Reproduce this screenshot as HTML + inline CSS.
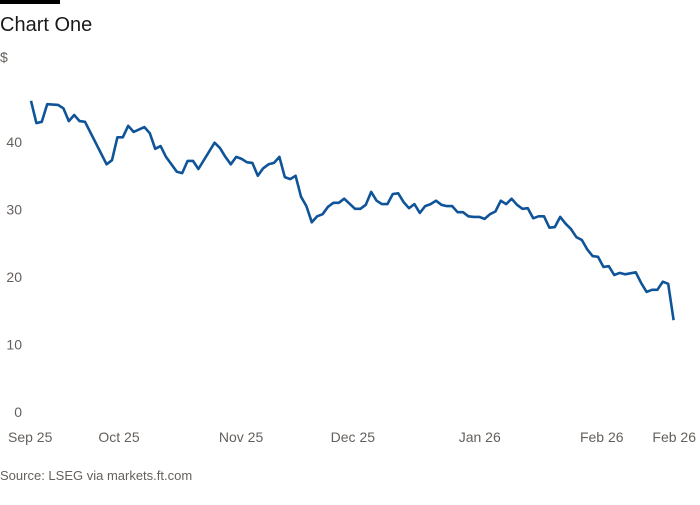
<!DOCTYPE html>
<html><head><meta charset="utf-8"><style>
html,body{margin:0;padding:0;background:#fff;}
body{width:700px;height:500px;overflow:hidden;font-family:"Liberation Sans",sans-serif;}
</style></head><body>
<svg id="chart" width="700" height="500" viewBox="0 0 700 500">
<rect x="0" y="0" width="60" height="4" fill="#000"/>
<text x="0" y="31" font-size="20" fill="#1a1a1a">Chart One</text>
<text x="0" y="62" font-size="14" fill="#66605c">$</text>
<text x="0" y="480" font-size="13" fill="#66605c">Source: LSEG via markets.ft.com</text>
<g id="yaxis"></g><g id="xaxis"></g><g id="series"></g>
</svg>
<script>
const dayIndex=[0,1,2,3,5,6,7,8,9,10,14,15,16,17,18,19,21,22,23,24,25,27,28,29,30,31,34,35,36,37,38,39,40,41,42,43,44,45,46,47,48,49,50,51,52,53,54,55,56,57,58,60,61,62,63,64,65,66,67,68,69,70,71,72,73,74,75,76,77,78,79,80,81,82,83,84,85,86,87,88,89,90,91,92,93,94,95,96,97,98,99,100,101,102,103,104,105,106,107,108,109,110,112,113,114,115,116,117,118,119];
const prices=[46.1,42.8,43.0,45.6,45.5,45.0,43.1,44.0,43.1,43.0,36.7,37.3,40.7,40.7,42.4,41.5,42.2,41.3,39.0,39.4,37.8,35.6,35.4,37.2,37.2,36.0,39.9,39.1,37.8,36.7,37.8,37.5,37.0,36.9,35.0,36.1,36.7,36.9,37.8,34.8,34.5,35.0,31.9,30.5,28.1,29.0,29.3,30.4,31.0,31.0,31.6,30.1,30.1,30.7,32.6,31.3,30.8,30.8,32.3,32.4,31.1,30.2,30.8,29.5,30.5,30.8,31.3,30.7,30.5,30.5,29.6,29.6,29.0,28.9,28.9,28.6,29.3,29.7,31.3,30.8,31.6,30.7,30.1,30.2,28.7,29.0,29.0,27.3,27.4,28.9,27.9,27.1,25.9,25.5,24.1,23.1,23.0,21.5,21.6,20.3,20.6,20.4,20.7,19.1,17.8,18.1,18.1,19.3,19.0,13.6];
const yTicks=[0,10,20,30,40];
const xTickLabels=["Sep 25","Oct 25","Nov 25","Dec 25","Jan 26","Feb 26","Feb 26"];
const xTickDays=[0,16.3,38.9,59.6,83.1,105.7,119];
const NS="http://www.w3.org/2000/svg";
const xs=d=>31+d*5.4;
const ys=v=>412-6.75*v;
const ya=document.getElementById('yaxis');
yTicks.forEach(t=>{const e=document.createElementNS(NS,'text');
e.setAttribute('x',22);e.setAttribute('y',ys(t)+5);e.setAttribute('text-anchor','end');
e.setAttribute('font-size','14');e.setAttribute('fill','#66605c');e.textContent=t;


ya.appendChild(e);});
const xa=document.getElementById('xaxis');
xTickLabels.forEach((l,i)=>{const e=document.createElementNS(NS,'text');
let x=xs(xTickDays[i]);let anchor='middle';
if(i===0){x=8;anchor='start';} if(i===xTickLabels.length-1){x=696;anchor='end';}
e.setAttribute('x',x);e.setAttribute('y',442);e.setAttribute('text-anchor',anchor);
e.setAttribute('font-size','14');e.setAttribute('fill','#66605c');e.textContent=l;


xa.appendChild(e);});
const p=document.createElementNS(NS,'path');
p.setAttribute('d',dayIndex.map((d,i)=>(i?'L':'M')+xs(d).toFixed(1)+' '+ys(prices[i]).toFixed(1)).join(' '));
p.setAttribute('fill','none');p.setAttribute('stroke','#0f5499');p.setAttribute('stroke-width','2.6');p.setAttribute('stroke-linejoin','round');


document.getElementById('series').appendChild(p);
</script>
</body></html>
